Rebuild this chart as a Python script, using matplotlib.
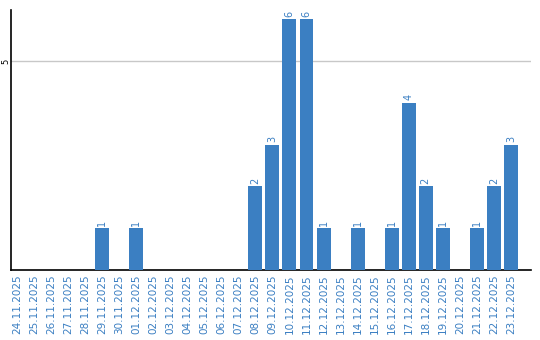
import matplotlib.pyplot as plt
import numpy as np

# --- data ---
dates = ["24.11.2025", "25.11.2025", "26.11.2025", "27.11.2025", "28.11.2025",
         "29.11.2025", "30.11.2025", "01.12.2025", "02.12.2025", "03.12.2025",
         "04.12.2025", "05.12.2025", "06.12.2025", "07.12.2025", "08.12.2025",
         "09.12.2025", "10.12.2025", "11.12.2025", "12.12.2025", "13.12.2025",
         "14.12.2025", "15.12.2025", "16.12.2025", "17.12.2025", "18.12.2025",
         "19.12.2025", "20.12.2025", "21.12.2025", "22.12.2025", "23.12.2025"]
counts = [0, 0, 0, 0, 0, 1, 0, 1, 0, 0,
          0, 0, 0, 0, 2, 3, 6, 6, 1, 0,
          1, 0, 1, 4, 2, 1, 0, 1, 2, 3]
y_ticks = [5]

blue = '#3b7fc2'

fig = plt.figure(figsize=(5.4, 3.4), dpi=100, facecolor='white')
ax = fig.add_axes([11 / 540, 1 - 270 / 340, 520 / 540, 260 / 340])

x = np.arange(len(dates))
bars = ax.bar(x, counts, width=0.82, color=blue, zorder=3)

for xi, v in zip(x, counts):
    if v > 0:
        ax.text(xi, v + 0.06, str(v), rotation=90, ha='center', va='bottom',
                fontsize=7, color=blue)

ax.set_xlim(-0.35, 30.18)
ax.set_ylim(0, 6.22)

ax.set_xticks(x)
ax.set_xticklabels(dates, rotation=90, fontsize=7.5, color=blue)
ax.tick_params(axis='x', length=0, pad=3)
ax.set_yticks(y_ticks)
ax.set_yticklabels([str(t) for t in y_ticks], rotation=90, fontsize=6,
                   va='center', ha='center')
ax.tick_params(axis='y', length=0, pad=4)

ax.grid(axis='y', color='#c8c8c8', linewidth=1, zorder=0)
ax.spines['top'].set_visible(False)
ax.spines['right'].set_visible(False)
ax.spines['left'].set_color('black')
ax.spines['bottom'].set_color('black')
ax.spines['left'].set_linewidth(1.2)
ax.spines['bottom'].set_linewidth(1.2)

fig.savefig('out.png', dpi=100)
